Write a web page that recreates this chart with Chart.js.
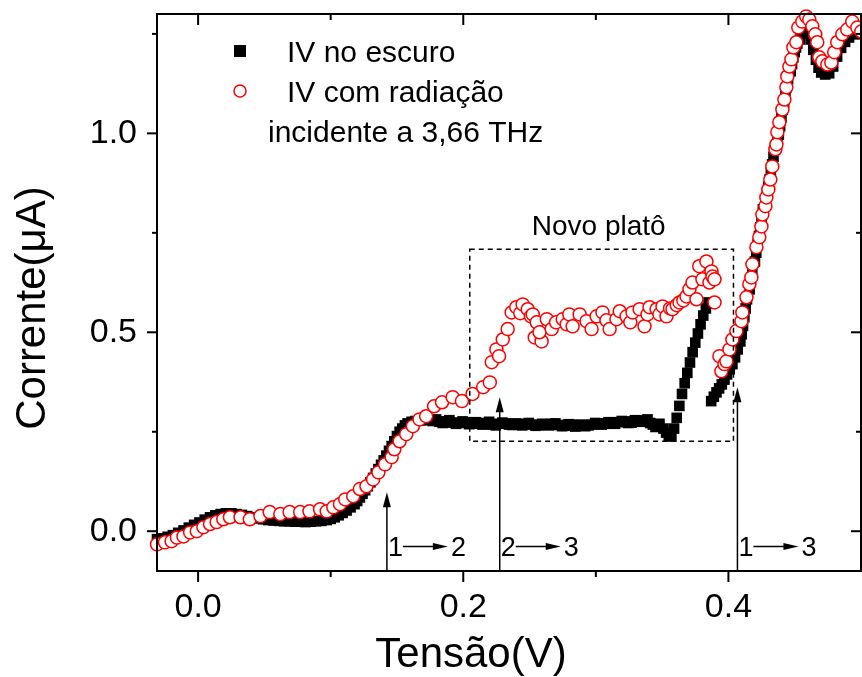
<!DOCTYPE html>
<html>
<head>
<meta charset="utf-8">
<title>IV</title>
<script src="https://cdn.jsdelivr.net/npm/chart.js@4.4.1/dist/chart.umd.min.js"></script>
<style>
  html, body { margin: 0; padding: 0; background: #fff; }
  #wrap { width: 862px; height: 677px; }
</style>
</head>
<body>
<div id="wrap"><canvas id="ivChart" width="862" height="677"></canvas></div>
<script>
const FONT = "'Liberation Sans', Arial, Helvetica, sans-serif";

// dark IV: bias (V) and current (uA)
const darkV = [
  -0.031, -0.027, -0.023, -0.019, -0.015, -0.011, -0.007, -0.003, 0.001, 0.005,
  0.009, 0.013, 0.017, 0.021, 0.025, 0.029, 0.033, 0.037, 0.041, 0.045,
  0.049, 0.053, 0.057, 0.061, 0.065, 0.069, 0.073, 0.077, 0.081, 0.085,
  0.089, 0.093, 0.097, 0.100, 0.103, 0.106, 0.109, 0.112, 0.115, 0.118,
  0.120, 0.122, 0.124, 0.126, 0.128, 0.130, 0.132, 0.134, 0.136, 0.138,
  0.140, 0.142, 0.144, 0.146, 0.148, 0.150, 0.152, 0.154, 0.156, 0.158,
  0.161, 0.164, 0.168, 0.172, 0.177, 0.1795, 0.182, 0.1845, 0.187, 0.1895,
  0.192, 0.1945, 0.197, 0.1995, 0.202, 0.2045, 0.207, 0.2095, 0.212, 0.2145,
  0.217, 0.2195, 0.222, 0.2245, 0.227, 0.2295, 0.232, 0.2345, 0.237, 0.2395,
  0.242, 0.2445, 0.247, 0.2495, 0.252, 0.2545, 0.257, 0.2595, 0.262, 0.2645,
  0.267, 0.2695, 0.272, 0.2745, 0.277, 0.2795, 0.282, 0.2845, 0.287, 0.2895,
  0.292, 0.2945, 0.297, 0.2995, 0.302, 0.3045, 0.307, 0.3095, 0.312, 0.3145,
  0.317, 0.3195, 0.322, 0.3245, 0.327, 0.3295, 0.332, 0.3345, 0.337, 0.339,
  0.341, 0.343, 0.345, 0.348,
  0.351, 0.353, 0.355, 0.357, 0.359, 0.361, 0.363, 0.365, 0.367, 0.369,
  0.371, 0.373, 0.375, 0.377, 0.379, 0.381, 0.383, 0.385,
  0.387, 0.389, 0.391, 0.393, 0.395, 0.397, 0.399, 0.401, 0.403, 0.405,
  0.407, 0.409, 0.410, 0.411, 0.412, 0.413, 0.414, 0.416, 0.417, 0.418,
  0.420, 0.421, 0.422, 0.423, 0.424, 0.425, 0.426, 0.428, 0.429, 0.430,
  0.431, 0.432, 0.433, 0.434, 0.435, 0.437, 0.438, 0.439, 0.440, 0.441,
  0.442, 0.443, 0.444, 0.445, 0.447, 0.448, 0.449, 0.450, 0.451, 0.452,
  0.454, 0.456, 0.458, 0.460, 0.462, 0.464, 0.466, 0.468, 0.470, 0.473,
  0.476, 0.479, 0.482, 0.485, 0.488, 0.491, 0.495, 0.499
];
const darkI = [
  -0.020, -0.018, -0.014, -0.010, -0.004, 0.002, 0.009, 0.016, 0.022, 0.029,
  0.035, 0.040, 0.043, 0.045, 0.045, 0.043, 0.041, 0.038, 0.035, 0.032,
  0.030, 0.028, 0.027, 0.026, 0.025, 0.025, 0.024, 0.024, 0.023, 0.024,
  0.025, 0.026, 0.028, 0.031, 0.035, 0.040, 0.046, 0.052, 0.060, 0.068,
  0.076, 0.085, 0.094, 0.103, 0.113, 0.123, 0.134, 0.145, 0.156, 0.167,
  0.178, 0.190, 0.202, 0.214, 0.226, 0.239, 0.250, 0.258, 0.266, 0.271,
  0.275, 0.277, 0.279, 0.279, 0.277, 0.281, 0.275, 0.272, 0.276, 0.279,
  0.273, 0.270, 0.272, 0.276, 0.274, 0.269, 0.271, 0.274, 0.270, 0.268,
  0.272, 0.275, 0.268, 0.266, 0.270, 0.273, 0.271, 0.268, 0.267, 0.271,
  0.269, 0.266, 0.270, 0.272, 0.268, 0.265, 0.266, 0.270, 0.269, 0.266,
  0.270, 0.271, 0.267, 0.264, 0.265, 0.269, 0.268, 0.263, 0.266, 0.268,
  0.264, 0.266, 0.268, 0.272, 0.271, 0.268, 0.270, 0.274, 0.272, 0.270,
  0.274, 0.277, 0.276, 0.272, 0.273, 0.279, 0.278, 0.275, 0.279, 0.281,
  0.272, 0.268, 0.262, 0.270,
  0.258, 0.248, 0.240, 0.238, 0.258, 0.285, 0.315, 0.345, 0.372, 0.398,
  0.424, 0.450, 0.474, 0.497, 0.520, 0.542, 0.560, 0.575,
  0.327, 0.338, 0.349, 0.359, 0.369, 0.381, 0.394, 0.407, 0.420, 0.437,
  0.457, 0.477, 0.495, 0.516, 0.538, 0.560, 0.583, 0.608, 0.633, 0.655,
  0.678, 0.700, 0.721, 0.742, 0.764, 0.786, 0.809, 0.828, 0.847, 0.866,
  0.884, 0.903, 0.922, 0.941, 0.960, 0.978, 0.997, 1.018, 1.040, 1.059,
  1.078, 1.097, 1.116, 1.136, 1.156, 1.174, 1.191, 1.204, 1.216, 1.226,
  1.236, 1.250, 1.258, 1.255, 1.236, 1.210, 1.185, 1.165, 1.153, 1.148,
  1.151, 1.168, 1.193, 1.215, 1.230, 1.241, 1.249, 1.250
];

// IV under 3.66 THz radiation
const radV = [
  -0.031, -0.025, -0.020, -0.016, -0.011, -0.006, -0.001, 0.004, 0.009, 0.014,
  0.019, 0.024, 0.032, 0.039, 0.047, 0.054, 0.062, 0.069, 0.077, 0.084,
  0.092, 0.097, 0.102, 0.107, 0.111, 0.117, 0.122, 0.127, 0.132, 0.136,
  0.141, 0.146, 0.148, 0.152, 0.157, 0.162, 0.167, 0.172, 0.178, 0.184,
  0.192, 0.199, 0.207, 0.215, 0.220,
  0.2215, 0.2250, 0.2270, 0.2298, 0.2335, 0.2365, 0.2400, 0.2430, 0.2448, 0.2486,
  0.2510, 0.2524, 0.2554, 0.2539, 0.2591, 0.2575, 0.2630, 0.2667, 0.2700, 0.2750,
  0.2780, 0.2800, 0.2825, 0.2878, 0.2930, 0.2968, 0.3006, 0.3050, 0.3080, 0.3104,
  0.3156, 0.3180, 0.3232, 0.3260, 0.3277, 0.3330, 0.3367, 0.3390, 0.3405, 0.3458,
  0.3480, 0.3503, 0.3533, 0.3560, 0.3578, 0.3610, 0.3631, 0.3660, 0.3684, 0.3706,
  0.3729, 0.3759, 0.3780, 0.3804, 0.3834, 0.3857, 0.3872, 0.3880, 0.3895, 0.3895,
  0.3932, 0.3947, 0.3970, 0.3985, 0.4008, 0.4030, 0.4060, 0.4098, 0.4105, 0.4136,
  0.4158, 0.4173, 0.4181, 0.4211, 0.4233, 0.4249, 0.4256, 0.4279, 0.4286, 0.4301,
  0.4316, 0.4331, 0.4354, 0.4362, 0.4369, 0.4384, 0.4407, 0.4422, 0.4437, 0.4444,
  0.4460, 0.4475, 0.4490, 0.4512, 0.4527, 0.4557, 0.4587, 0.4610, 0.4633, 0.4655,
  0.4670, 0.4685, 0.4708, 0.4746, 0.4776, 0.4798, 0.4821, 0.4859, 0.4896, 0.4934,
  0.4972, 0.5002
];
const radI = [
  -0.033, -0.028, -0.025, -0.016, -0.013, -0.003, 0.000, 0.010, 0.018, 0.023,
  0.030, 0.035, 0.035, 0.030, 0.038, 0.048, 0.043, 0.048, 0.048, 0.050,
  0.055, 0.050, 0.060, 0.068, 0.080, 0.088, 0.106, 0.113, 0.130, 0.148,
  0.168, 0.186, 0.206, 0.226, 0.244, 0.264, 0.281, 0.289, 0.314, 0.324,
  0.337, 0.327, 0.345, 0.362, 0.374,
  0.425, 0.457, 0.440, 0.482, 0.508, 0.550, 0.563, 0.548, 0.570, 0.558,
  0.540, 0.545, 0.525, 0.487, 0.477, 0.500, 0.533, 0.508, 0.525, 0.533,
  0.520, 0.545, 0.515, 0.545, 0.528, 0.508, 0.540, 0.550, 0.530, 0.508,
  0.533, 0.553, 0.540, 0.525, 0.550, 0.558, 0.515, 0.545, 0.563, 0.558,
  0.545, 0.565, 0.540, 0.560, 0.558, 0.568, 0.575, 0.580, 0.590, 0.608,
  0.625, 0.583, 0.666, 0.633, 0.678, 0.625, 0.653, 0.640, 0.633, 0.575,
  0.440, 0.402, 0.420, 0.427, 0.457, 0.482, 0.503, 0.528, 0.550, 0.588,
  0.621, 0.638, 0.671, 0.714, 0.739, 0.766, 0.796, 0.817, 0.839, 0.859,
  0.884, 0.917, 0.960, 0.972, 1.003, 1.028, 1.060, 1.085, 1.116, 1.143,
  1.168, 1.186, 1.216, 1.229, 1.266, 1.281, 1.294, 1.286, 1.269, 1.249,
  1.229, 1.191, 1.181, 1.173, 1.178, 1.204, 1.229, 1.249, 1.261, 1.281,
  1.266, 1.256
];

const xTicks = [0.0, 0.2, 0.4];
const xMinor = [0.1, 0.3];
const yTicks = [0.0, 0.5, 1.0];
const yMinor = [0.25, 0.75, 1.25];

// transition arrows: bias, current at the arrow tip, "from -> to" subbands
const arrowV = [0.1424, 0.2275, 0.4068];
const arrowTip = [0.098, 0.337, 0.362];
const arrowFrom = ['1', '2', '1'];
const arrowTo = ['2', '3', '3'];

// dashed frame around the new plateau
const boxV = [0.2049, 0.4038];
const boxI = [0.226, 0.7085];

function line(ctx, x1, y1, x2, y2) {
  ctx.beginPath();
  ctx.moveTo(x1, y1);
  ctx.lineTo(x2, y2);
  ctx.stroke();
}

function tri(ctx, p1, p2, p3) {
  ctx.beginPath();
  ctx.moveTo(p1[0], p1[1]);
  ctx.lineTo(p2[0], p2[1]);
  ctx.lineTo(p3[0], p3[1]);
  ctx.closePath();
  ctx.fill();
}

const decorations = {
  id: 'decorations',
  afterDatasetsDraw(chart) {
    const {ctx, chartArea: a} = chart;
    const x = chart.scales.x, y = chart.scales.y;
    ctx.save();
    ctx.strokeStyle = '#000';
    ctx.fillStyle = '#000';
    ctx.setLineDash([]);

    // axis box
    ctx.lineWidth = 2;
    ctx.strokeRect(a.left, a.top, a.right - a.left, a.bottom - a.top);

    // tick marks: outward on bottom/left, inward on top/right
    const xt = (v, len) => {
      const px = x.getPixelForValue(v);
      line(ctx, px, a.bottom, px, a.bottom + len);
      line(ctx, px, a.top, px, a.top + len);
    };
    const yt = (v, len) => {
      const py = y.getPixelForValue(v);
      line(ctx, a.left - len, py, a.left, py);
      line(ctx, a.right - len, py, a.right, py);
    };
    xTicks.forEach(v => xt(v, 11));
    xMinor.forEach(v => xt(v, 6));
    yTicks.forEach(v => yt(v, 10));
    yMinor.forEach(v => yt(v, 5));

    // dashed box
    ctx.lineWidth = 1.5;
    ctx.setLineDash([5, 4]);
    const bx1 = x.getPixelForValue(boxV[0]), bx2 = x.getPixelForValue(boxV[1]);
    const by1 = y.getPixelForValue(boxI[1]), by2 = y.getPixelForValue(boxI[0]);
    ctx.strokeRect(bx1, by1, bx2 - bx1, by2 - by1);
    ctx.setLineDash([]);

    ctx.textAlign = 'left';
    ctx.textBaseline = 'alphabetic';
    ctx.font = `28px ${FONT}`;
    ctx.fillText('Novo platô', bx1 + 62, by1 - 14);

    // transition arrows and labels
    ctx.font = `27px ${FONT}`;
    arrowV.forEach((v, i) => {
      const px = x.getPixelForValue(v);
      const tip = y.getPixelForValue(arrowTip[i]);
      ctx.lineWidth = 1.5;
      line(ctx, px, a.bottom, px, tip + 12);
      tri(ctx, [px, tip], [px - 4, tip + 15], [px + 4, tip + 15]);

      const base = a.bottom - 15;
      const ay = base - 9.5;
      ctx.fillText(arrowFrom[i], px + 1, base);
      line(ctx, px + 16, ay, px + 50, ay);
      tri(ctx, [px + 61, ay], [px + 46, ay - 3.5], [px + 46, ay + 3.5]);
      ctx.fillText(arrowTo[i], px + 64, base);
    });

    // legend
    const lx = a.left + 83;
    ctx.fillRect(lx - 6, a.top + 31, 12, 12);
    ctx.beginPath();
    ctx.arc(lx, a.top + 77, 6, 0, Math.PI * 2);
    ctx.fillStyle = '#fff';
    ctx.fill();
    ctx.strokeStyle = '#ff0000';
    ctx.lineWidth = 1.5;
    ctx.stroke();
    ctx.fillStyle = '#000';
    ctx.font = `30px ${FONT}`;
    ctx.fillText('IV no escuro', a.left + 130, a.top + 48);
    ctx.fillText('IV com radiação', a.left + 130, a.top + 88);
    ctx.fillText('incidente a 3,66 THz', a.left + 111, a.top + 128);

    // axis titles
    ctx.font = `42px ${FONT}`;
    ctx.textAlign = 'center';
    ctx.fillText('Tensão(V)', 471, a.bottom + 96);
    ctx.save();
    ctx.translate(45, 308);
    ctx.rotate(-Math.PI / 2);
    ctx.fillText('Corrente(\u03BCA)', 0, 0);
    ctx.restore();

    ctx.restore();
  }
};

const tickFont = { family: FONT, size: 34 };

new Chart(document.getElementById('ivChart'), {
  type: 'scatter',
  data: {
    datasets: [
      {
        label: 'IV no escuro',
        data: darkV.map((v, i) => ({ x: v, y: darkI[i] })),
        pointStyle: 'rect',
        pointRadius: 7.5,
        backgroundColor: '#000',
        borderColor: '#000',
        borderWidth: 0,
        clip: false,
        order: 2
      },
      {
        label: 'IV com radiação incidente a 3,66 THz',
        data: radV.map((v, i) => ({ x: v, y: radI[i] })),
        pointStyle: 'circle',
        pointRadius: 6.5,
        backgroundColor: '#fff',
        borderColor: '#ff0000',
        borderWidth: 1.5,
        clip: false,
        order: 1
      }
    ]
  },
  options: {
    responsive: false,
    animation: false,
    devicePixelRatio: 1,
    layout: { autoPadding: false, padding: { top: 14, right: 1, left: 0, bottom: 0 } },
    plugins: {
      legend: { display: false },
      tooltip: { enabled: false }
    },
    scales: {
      x: {
        type: 'linear',
        min: -0.031,
        max: 0.5,
        afterBuildTicks: s => { s.ticks = xTicks.map(v => ({ value: v })); },
        afterFit: s => { s.height = 106; s.paddingLeft = 0; s.paddingRight = 0; },
        grid: { display: false, drawTicks: false },
        border: { display: false },
        ticks: {
          font: tickFont,
          color: '#000',
          padding: 16,
          maxRotation: 0,
          autoSkip: false,
          callback: v => v.toFixed(1)
        }
      },
      y: {
        type: 'linear',
        min: -0.1,
        max: 1.3,
        afterBuildTicks: s => { s.ticks = yTicks.map(v => ({ value: v })); },
        afterFit: s => { s.width = 157; s.paddingTop = 0; s.paddingBottom = 0; },
        grid: { display: false, drawTicks: false },
        border: { display: false },
        ticks: {
          font: tickFont,
          color: '#000',
          padding: 20,
          autoSkip: false,
          callback: v => v.toFixed(1)
        }
      }
    }
  },
  plugins: [decorations]
});
</script>
</body>
</html>
